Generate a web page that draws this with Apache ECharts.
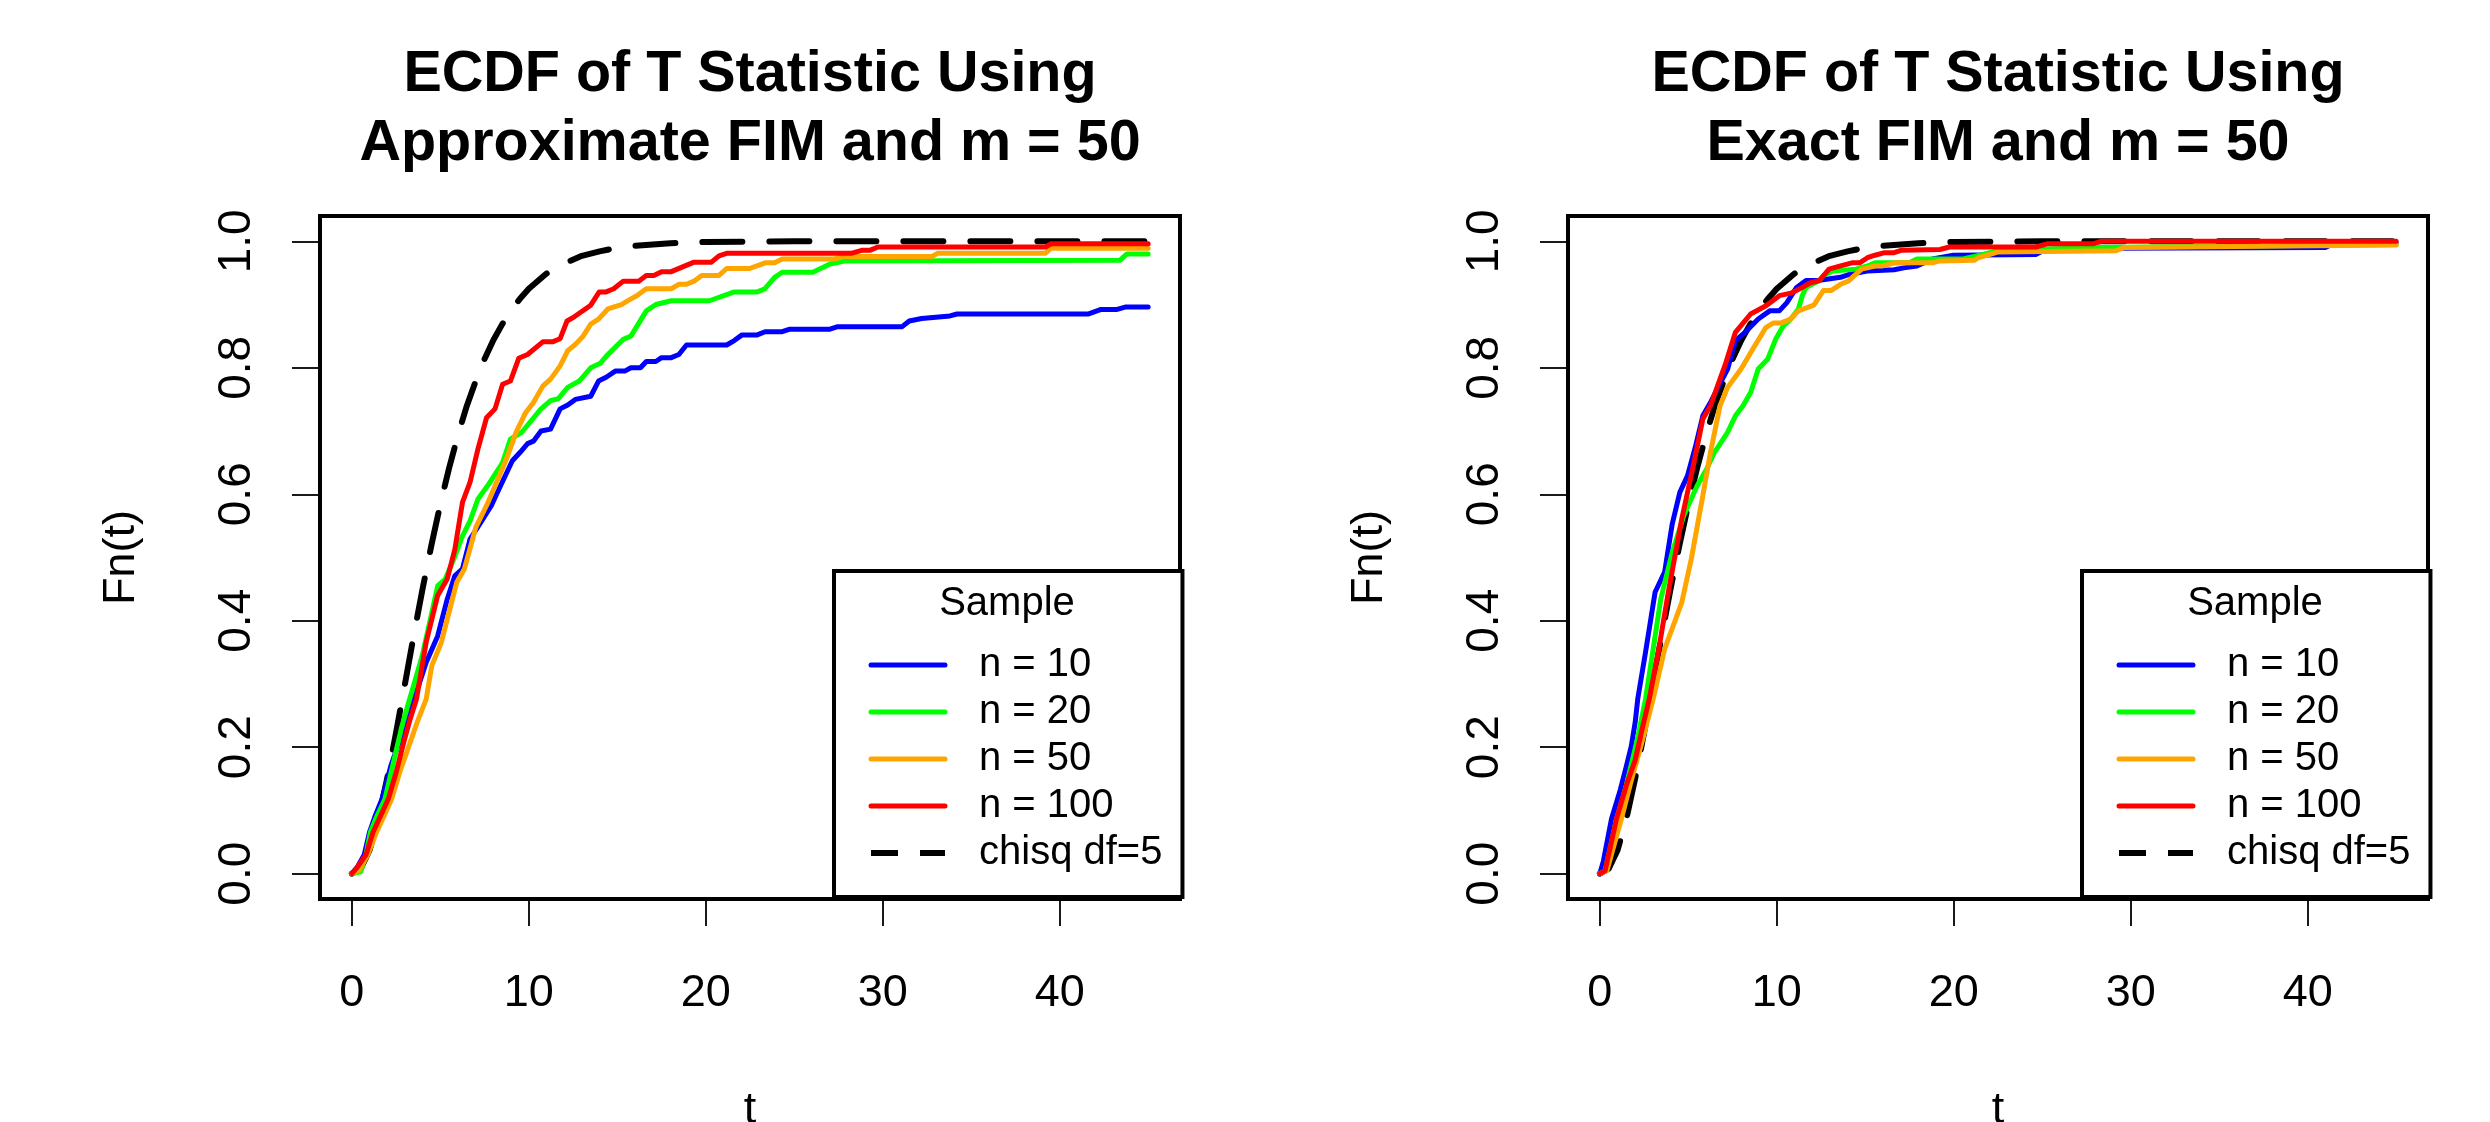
<!DOCTYPE html>
<html><head><meta charset="utf-8">
<script src="https://cdn.jsdelivr.net/npm/echarts@6/dist/echarts.min.js"></script>
<style>html,body{margin:0;padding:0;background:#fff}#c{width:2490px;height:1122px}</style>
</head><body><div id="c"></div>
<script>
const seriesNames = ['n = 10', 'n = 20', 'n = 50', 'n = 100', 'chisq df=5'];
const seriesColors = ['#0000FF', '#00FF00', '#FFA500', '#FF0000', '#000000'];
const xTicks = [0, 10, 20, 30, 40];
const yTicks = [0, 0.2, 0.4, 0.6, 0.8, 1.0];
const plotTitles = ['ECDF of T Statistic Using\nApproximate FIM and m = 50', 'ECDF of T Statistic Using\nExact FIM and m = 50'];
const legendTitle = 'Sample';
const xName = 't';
const yName = 'Fn(t)';

// reference curve, [t, Fn(t)]
const chisqDf5 = [[0,0],[0.5,0.008],[1,0.037],[1.5,0.087],[2,0.151],[2.5,0.223],[3,0.300],[3.5,0.377],[4,0.451],[4.5,0.520],[5,0.584],[5.5,0.642],[6,0.694],[6.5,0.740],[7,0.779],[7.5,0.814],[8,0.844],[8.5,0.869],[9,0.891],[9.5,0.909],[10,0.925],[11,0.949],[12,0.965],[13,0.977],[14,0.984],[15,0.990],[16,0.993],[18,0.997],[20,0.999],[25,1.0],[45,1.0]];

// Left panel: Approximate FIM
const approxN10 = [[0,0],[0.3,0.01],[0.7,0.03],[1.0,0.066],[1.3,0.09],[1.7,0.118],[2.2,0.17],[2.7,0.21],[3.2,0.25],[3.65,0.287],[4.2,0.334],[4.85,0.376],[5.39,0.434],[5.82,0.471],[6.25,0.482],[6.68,0.529],[7.23,0.553],[7.88,0.582],[8.31,0.608],[8.85,0.640],[9.07,0.653],[9.50,0.666],[9.93,0.680],[10.26,0.684],[10.69,0.700],[11.23,0.703],[11.77,0.735],[12.20,0.741],[12.63,0.750],[13.50,0.755],[13.94,0.779],[14.37,0.785],[14.91,0.795],[15.45,0.795],[15.77,0.800],[16.31,0.800],[16.64,0.810],[17.18,0.810],[17.50,0.816],[18.05,0.816],[18.48,0.821],[18.91,0.836],[21.18,0.836],[21.61,0.843],[22.05,0.852],[22.91,0.852],[23.35,0.857],[24.32,0.857],[24.75,0.861],[27.02,0.861],[27.46,0.865],[31.1,0.865],[31.5,0.874],[32.2,0.878],[33.8,0.882],[34.2,0.885],[41.6,0.885],[42.3,0.892],[43.2,0.892],[43.7,0.896],[45,0.896]];
const approxN20 = [[0,0],[0.5,0.003],[0.8,0.03],[1.05,0.066],[1.4,0.09],[1.87,0.118],[2.3,0.17],[2.8,0.23],[3.2,0.27],[3.55,0.303],[3.98,0.345],[4.52,0.413],[4.85,0.455],[5.28,0.466],[5.8,0.50],[6.25,0.534],[6.68,0.558],[7.12,0.592],[7.66,0.613],[8.52,0.650],[8.96,0.687],[9.60,0.698],[10.69,0.735],[11.23,0.748],[11.66,0.751],[12.20,0.769],[12.85,0.779],[13.50,0.800],[14.04,0.807],[14.37,0.818],[15.34,0.845],[15.77,0.850],[16.64,0.890],[17.18,0.900],[18.05,0.906],[20.21,0.906],[21.61,0.920],[22.91,0.920],[23.35,0.925],[23.89,0.943],[24.32,0.951],[26.05,0.951],[27.02,0.964],[27.89,0.969],[43.4,0.970],[43.8,0.980],[45,0.980]];
const approxN50 = [[0,0],[0.4,0.005],[0.9,0.03],[1.4,0.066],[1.8,0.09],[2.25,0.118],[2.7,0.16],[3.2,0.2],[3.7,0.24],[4.20,0.276],[4.52,0.329],[5.06,0.366],[5.93,0.461],[6.36,0.482],[7.01,0.548],[7.66,0.585],[8.09,0.613],[8.74,0.656],[9.28,0.698],[9.82,0.729],[10.26,0.745],[10.79,0.771],[11.23,0.782],[11.77,0.803],[12.20,0.827],[12.63,0.837],[13.07,0.850],[13.50,0.869],[13.94,0.877],[14.47,0.893],[15.23,0.900],[15.77,0.909],[16.10,0.914],[16.64,0.925],[18.05,0.925],[18.48,0.932],[18.91,0.932],[19.34,0.937],[19.77,0.946],[20.75,0.946],[21.18,0.957],[22.48,0.957],[23.35,0.966],[23.89,0.966],[24.32,0.972],[27.24,0.972],[27.78,0.976],[32.8,0.976],[33.1,0.981],[39.2,0.981],[39.5,0.989],[45,0.989]];
const approxN100 = [[0,0],[0.3,0.01],[0.8,0.03],[1.2,0.066],[1.6,0.09],[2.06,0.118],[2.5,0.16],[3.0,0.215],[3.3,0.245],[3.65,0.276],[4.20,0.366],[4.85,0.440],[5.39,0.466],[5.82,0.513],[6.25,0.587],[6.68,0.619],[7.12,0.671],[7.61,0.721],[8.09,0.735],[8.52,0.774],[8.96,0.779],[9.43,0.815],[9.93,0.821],[10.79,0.841],[11.34,0.841],[11.77,0.846],[12.16,0.874],[12.59,0.881],[13.50,0.899],[13.98,0.920],[14.37,0.920],[14.80,0.925],[15.34,0.937],[16.21,0.937],[16.64,0.946],[17.07,0.946],[17.50,0.952],[18.05,0.952],[19.34,0.967],[20.32,0.967],[20.75,0.977],[21.18,0.981],[28.22,0.981],[28.86,0.986],[29.30,0.986],[29.73,0.991],[39.2,0.991],[39.5,0.996],[45,0.996]];

// Right panel: Exact FIM
const exactN10 = [[0,0],[0.2,0.02],[0.66,0.087],[1.15,0.132],[1.5,0.17],[1.78,0.202],[2.0,0.24],[2.14,0.276],[2.58,0.350],[3.12,0.445],[3.66,0.477],[4.09,0.553],[4.52,0.603],[4.95,0.629],[5.39,0.674],[5.82,0.724],[6.25,0.745],[6.68,0.769],[7.22,0.798],[7.66,0.843],[8.20,0.856],[8.95,0.877],[9.60,0.890],[10.14,0.890],[10.57,0.903],[11.12,0.927],[11.65,0.938],[12.31,0.938],[13.60,0.943],[14.14,0.948],[15.12,0.953],[16.63,0.955],[17.17,0.958],[17.92,0.961],[18.79,0.972],[19.98,0.978],[24.63,0.979],[25.17,0.987],[28.5,0.989],[41,0.990],[41.5,0.997],[45,0.998]];
const exactN20 = [[0,0],[0.3,0.005],[0.9,0.08],[1.5,0.14],[2.1,0.21],[2.58,0.276],[3.44,0.434],[4.09,0.508],[4.74,0.566],[5.49,0.613],[6.04,0.640],[6.47,0.666],[7.22,0.698],[7.66,0.724],[8.09,0.740],[8.52,0.761],[8.95,0.798],[9.49,0.814],[9.93,0.845],[10.36,0.866],[10.79,0.877],[11.22,0.893],[11.44,0.914],[11.65,0.927],[12.41,0.938],[12.63,0.946],[13.17,0.953],[14.47,0.956],[15.12,0.961],[15.55,0.966],[17.49,0.966],[17.92,0.972],[20.52,0.972],[21.60,0.979],[22.47,0.985],[24.41,0.985],[25.17,0.988],[28.31,0.990],[45,0.995]];
const exactN50 = [[0,0],[0.4,0.005],[1.22,0.087],[1.8,0.15],[2.4,0.21],[3.01,0.276],[3.66,0.355],[4.63,0.429],[5.17,0.498],[5.82,0.598],[6.25,0.666],[6.79,0.740],[7.22,0.769],[7.98,0.798],[8.63,0.829],[9.39,0.864],[9.82,0.871],[10.25,0.871],[10.79,0.877],[11.22,0.890],[12.09,0.899],[12.63,0.922],[13.06,0.922],[13.60,0.932],[14.04,0.937],[14.79,0.956],[15.55,0.961],[15.98,0.961],[16.63,0.966],[18.79,0.966],[19.22,0.969],[21.17,0.970],[21.39,0.974],[22.47,0.983],[29.17,0.985],[29.60,0.990],[45,0.994]];
const exactN100 = [[0,0],[0.3,0.005],[0.94,0.087],[1.5,0.14],[2.0,0.18],[2.4,0.23],[2.79,0.276],[3.33,0.355],[3.87,0.445],[4.63,0.561],[5.28,0.645],[5.82,0.719],[6.25,0.740],[6.79,0.782],[7.12,0.808],[7.66,0.856],[8.52,0.885],[9.39,0.898],[10.14,0.914],[10.79,0.918],[11.44,0.927],[11.87,0.934],[12.41,0.938],[12.95,0.956],[13.60,0.961],[14.25,0.966],[14.68,0.966],[15.12,0.974],[15.55,0.978],[16.09,0.982],[16.63,0.982],[17.06,0.986],[19.22,0.987],[19.76,0.991],[24.63,0.991],[25.28,0.996],[27.87,0.996],[28.31,1.0],[45,1.0]];

const panels = [
  [approxN10, approxN20, approxN50, approxN100, chisqDf5],
  [exactN10, exactN20, exactN50, exactN100, chisqDf5]
];

const FONT = '"Liberation Sans", Arial, Helvetica, sans-serif';
const gridLefts = [320, 1568];
const gridW = 860, gridTop = 216, gridH = 683;
const legendW = 346;

const option = {
  animation: false,
  backgroundColor: '#ffffff',
  textStyle: { fontFamily: FONT, color: '#000' },
  title: [], grid: [], xAxis: [], yAxis: [], legend: [], series: []
};

panels.forEach((curves, p) => {
  const gl = gridLefts[p];
  option.title.push({
    text: plotTitles[p], left: gl + gridW / 2, top: 41, textAlign: 'center', padding: 0,
    textStyle: { fontFamily: FONT, fontSize: 57.5, fontWeight: 'bold', lineHeight: 69, color: '#000' }
  });
  option.title.push({
    text: legendTitle, left: gl + gridW - legendW / 2, top: 584, textAlign: 'center', padding: 0,
    textStyle: { fontFamily: FONT, fontSize: 40, fontWeight: 'normal', lineHeight: 40, color: '#000' }
  });
  option.grid.push({ left: gl, top: gridTop, width: gridW, height: gridH, show: true,
    borderColor: '#000', borderWidth: 4, backgroundColor: 'transparent',
    containLabel: false, outerBoundsMode: 'none' });
  option.xAxis.push({
    type: 'value', gridIndex: p, min: -1.8, max: 46.8,
    name: xName, nameLocation: 'middle', nameGap: 189,
    nameTextStyle: { fontFamily: FONT, fontSize: 45, color: '#000' },
    axisLine: { show: false, onZero: false },
    axisTick: { show: true, inside: false, length: 27, customValues: xTicks, lineStyle: { color: '#000', width: 1.8 } },
    axisLabel: { show: true, customValues: xTicks, margin: 72, fontFamily: FONT, fontSize: 45, color: '#000' },
    splitLine: { show: false }
  });
  option.yAxis.push({
    type: 'value', gridIndex: p, min: -0.04, max: 1.04,
    name: yName, nameLocation: 'middle', nameGap: 176, nameRotate: 90,
    nameTextStyle: { fontFamily: FONT, fontSize: 45, color: '#000' },
    axisLine: { show: false, onZero: false },
    axisTick: { show: true, inside: false, length: 28, customValues: yTicks, lineStyle: { color: '#000', width: 1.8 } },
    axisLabel: { show: true, customValues: yTicks, rotate: 90, margin: 60, fontFamily: FONT, fontSize: 46, color: '#000',
      formatter: v => v.toFixed(1) },
    splitLine: { show: false }
  });
  option.legend.push({
    orient: 'vertical', left: gl + gridW - legendW, top: 571,
    padding: [74, 20, 24, 34], itemGap: 7, itemWidth: 74, itemHeight: 16,
    borderColor: '#000', borderWidth: 4, borderRadius: 0, backgroundColor: '#fff',
    selectedMode: false,
    itemStyle: { opacity: 0 },
    lineStyle: { width: 5, cap: 'round' },
    textStyle: { fontFamily: FONT, fontSize: 40, color: '#000', lineHeight: 40, padding: [0, 0, 0, 29] },
    data: [
      { name: seriesNames[0] }, { name: seriesNames[1] }, { name: seriesNames[2] }, { name: seriesNames[3] },
      { name: seriesNames[4], lineStyle: { type: [27, 22], width: 6, cap: 'butt' } }
    ]
  });
  // dashed reference first, then the ECDFs (red on top)
  [4, 0, 1, 2, 3].forEach(k => {
    const dashed = k === 4;
    option.series.push({
      name: seriesNames[k], type: 'line', xAxisIndex: p, yAxisIndex: p,
      data: curves[k], symbol: 'none', showSymbol: false, smooth: false,
      color: seriesColors[k],
      lineStyle: dashed
        ? { color: seriesColors[k], width: 6, type: [40, 27], cap: 'round', join: 'round' }
        : { color: seriesColors[k], width: 5, type: 'solid', cap: 'round', join: 'round' },
      emphasis: { disabled: true }
    });
  });
});

const chart = echarts.init(document.getElementById('c'), null, { renderer: 'canvas', width: 2490, height: 1122 });
chart.setOption(option);
</script></body></html>
